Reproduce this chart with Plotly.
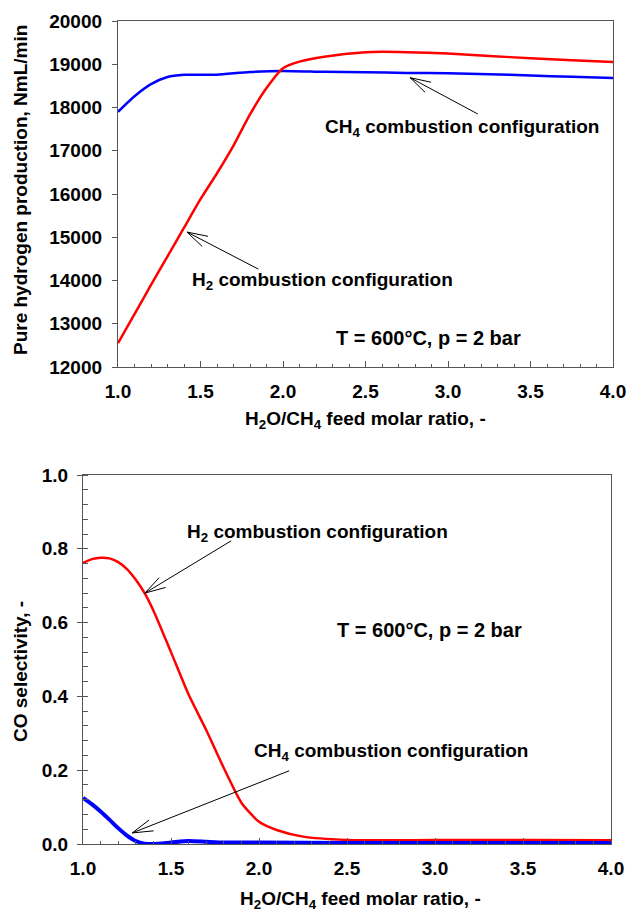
import math
import plotly.graph_objects as go

# ---------------- data ----------------
# Top panel: pure hydrogen production, NmL/min
top_x_ch4 = [1.0, 1.1, 1.2, 1.3, 1.4, 1.5, 1.6, 1.8, 2.0, 2.25, 2.5, 2.75, 3.0, 3.25, 3.5, 3.75, 4.0]
top_y_ch4 = [17900, 18260, 18540, 18705, 18755, 18755, 18760, 18820, 18845, 18825, 18815, 18800, 18790, 18770, 18740, 18710, 18680]

top_x_h2 = [1.0, 1.1, 1.2, 1.3, 1.4, 1.5, 1.6, 1.7, 1.8, 1.9, 2.0, 2.1, 2.25, 2.5, 2.6, 2.75, 3.0, 3.25, 3.5, 3.75, 4.0]
top_y_h2 = [12550, 13220, 13900, 14560, 15220, 15880, 16480, 17120, 17840, 18450, 18910, 19060, 19175, 19280, 19290, 19280, 19250, 19190, 19140, 19090, 19050]

# Bottom panel: CO selectivity
bot_x_h2 = [1.0, 1.05, 1.1, 1.15, 1.2, 1.25, 1.3, 1.35, 1.4, 1.5, 1.6, 1.7, 1.8, 1.9, 2.0, 2.1, 2.25, 2.5, 2.75, 3.0, 3.5, 4.0]
bot_y_h2 = [0.762, 0.772, 0.776, 0.774, 0.764, 0.745, 0.716, 0.680, 0.633, 0.520, 0.405, 0.309, 0.206, 0.112, 0.060, 0.038, 0.020, 0.011, 0.010, 0.011, 0.011, 0.010]

bot_x_ch4 = [1.0, 1.05, 1.1, 1.15, 1.2, 1.25, 1.3, 1.35, 1.4, 1.5, 1.6, 1.7, 1.8, 2.0, 2.5, 3.0, 3.5, 4.0]
bot_y_ch4 = [0.125, 0.108, 0.088, 0.066, 0.043, 0.023, 0.008, 0.001, 0.000, 0.004, 0.008, 0.006, 0.004, 0.004, 0.003, 0.003, 0.003, 0.003]

x_range = [1.0, 4.0]
top_range = [12000, 20000]
bot_range = [0.0, 1.0]

label_ch4 = "CH<sub>4</sub> combustion configuration"
label_h2 = "H<sub>2</sub> combustion configuration"
label_cond = "T = 600°C, p = 2 bar"
xtitle = "H<sub>2</sub>O/CH<sub>4</sub> feed molar ratio, -"
ytitle_top = "Pure hydrogen production, NmL/min"
ytitle_bot = "CO selectivity, -"

# ---------------- layout geometry ----------------
W, H = 629, 914
TOP = dict(l=118, r=613, t=21, b=367)
BOT = dict(l=83, r=611, t=475, b=844)
FONT = "Liberation Sans, Arial, Helvetica, sans-serif"
AXC = "#555555"

def xdom(p):
    return [p["l"] / W, p["r"] / W]

def ydom(p):
    return [1 - p["b"] / H, 1 - p["t"] / H]

fig = go.Figure()
line_red = dict(color="#ff0000", width=2.5, shape="spline", smoothing=0.6)
fig.add_trace(go.Scatter(x=top_x_ch4, y=top_y_ch4, xaxis="x", yaxis="y", mode="lines",
                         line=dict(color="#0000ff", width=2.5, shape="spline", smoothing=0.6)))
fig.add_trace(go.Scatter(x=top_x_h2, y=top_y_h2, xaxis="x", yaxis="y", mode="lines", line=line_red))
fig.add_trace(go.Scatter(x=bot_x_h2, y=bot_y_h2, xaxis="x2", yaxis="y2", mode="lines", line=line_red))
fig.add_trace(go.Scatter(x=bot_x_ch4, y=bot_y_ch4, xaxis="x2", yaxis="y2", mode="lines",
                         line=dict(color="#0000ff", width=4, shape="spline", smoothing=0.6)))

tickfont = dict(family=FONT, size=19, color="black", weight="bold")

def xaxis_cfg(p, anchor):
    return dict(domain=xdom(p), anchor=anchor, range=x_range, dtick=0.5, tickformat=".1f",
                showline=True, mirror=True, linecolor=AXC, linewidth=1.3,
                ticks="inside", ticklen=6, tickcolor=AXC, tickwidth=1,
                minor=dict(dtick=0.1, ticks="inside", ticklen=3, tickcolor=AXC, tickwidth=1),
                showgrid=False, zeroline=False, tickfont=tickfont, ticklabelstandoff=7,
                automargin=False)

fig.update_layout(
    width=W, height=H, margin=dict(l=0, r=0, t=0, b=0, pad=0),
    paper_bgcolor="white", plot_bgcolor="white", showlegend=False,
    xaxis=xaxis_cfg(TOP, "y"),
    xaxis2=xaxis_cfg(BOT, "y2"),
    yaxis=dict(domain=ydom(TOP), anchor="x", range=top_range, dtick=1000, tickformat="d",
               showline=True, mirror=True, linecolor=AXC, linewidth=1.3,
               ticks="outside", ticklen=5, tickcolor=AXC, showgrid=False, zeroline=False,
               tickfont=tickfont, ticklabelstandoff=6, automargin=False),
    yaxis2=dict(domain=ydom(BOT), anchor="x2", range=bot_range, dtick=0.2, tickformat=".1f",
                showline=True, mirror=True, linecolor=AXC, linewidth=1.3,
                ticks="outside", ticklen=5, tickcolor=AXC, showgrid=False, zeroline=False,
                minor=dict(dtick=0.04, ticks="inside", ticklen=5, tickcolor=AXC, tickwidth=1),
                tickfont=tickfont, ticklabelstandoff=5, automargin=False),
)

ann_font = dict(family=FONT, size=19, color="black", weight="bold")
cond_font = dict(family=FONT, size=20, color="black", weight="bold")

def text(xref, yref, x, y, s, font=ann_font):
    fig.add_annotation(xref=xref, yref=yref, x=x, y=y, text=s, showarrow=False,
                       font=font, xanchor="center", yanchor="middle")

def px_scale(p, yr):
    sx = (p["r"] - p["l"]) / (x_range[1] - x_range[0])
    sy = (p["b"] - p["t"]) / (yr[1] - yr[0])
    return sx, sy

def arrow(xref, yref, p, yr, head, tail, barb=23, ang=16):
    fig.add_annotation(xref=xref, yref=yref, x=head[0], y=head[1], ax=tail[0], ay=tail[1],
                       axref=xref, ayref=yref, text="", showarrow=True, arrowhead=0,
                       arrowwidth=1, arrowcolor="black", standoff=0, startstandoff=0)
    sx, sy = px_scale(p, yr)
    dx = (tail[0] - head[0]) * sx
    dy = -(tail[1] - head[1]) * sy
    a = math.atan2(dy, dx)
    for s in (-1, 1):
        b = a + s * math.radians(ang)
        fig.add_annotation(xref=xref, yref=yref, x=head[0], y=head[1],
                           ax=barb * math.cos(b), ay=barb * math.sin(b),
                           text="", showarrow=True, arrowhead=0, arrowwidth=1,
                           arrowcolor="black", standoff=0, startstandoff=0)

# top panel annotations
arrow("x", "y", TOP, top_range, (2.77, 18690), (3.19, 17830))
arrow("x", "y", TOP, top_range, (1.418, 15120), (1.86, 14245))
text("x", "y", 3.085, 17526, label_ch4)
text("x", "y", 2.24, 13988, label_h2)
text("x", "y", 2.88, 12670, label_cond, cond_font)

# bottom panel annotations
arrow("x2", "y2", BOT, bot_range, (1.352, 0.680), (1.85, 0.824))
arrow("x2", "y2", BOT, bot_range, (1.28, 0.030), (2.18, 0.200))
text("x2", "y2", 2.335, 0.843, label_h2)
text("x2", "y2", 2.97, 0.58, label_cond, cond_font)
text("x2", "y2", 2.75, 0.249, label_ch4)

# axis titles
title_font = dict(family=FONT, size=19, color="black", weight="bold")
fig.add_annotation(xref="paper", yref="paper", x=365 / W, y=1 - 420 / H, text=xtitle,
                   showarrow=False, font=title_font, xanchor="center", yanchor="middle")
fig.add_annotation(xref="paper", yref="paper", x=360 / W, y=1 - 900 / H, text=xtitle,
                   showarrow=False, font=title_font, xanchor="center", yanchor="middle")
fig.add_annotation(xref="paper", yref="paper", x=21 / W, y=1 - 190 / H, text=ytitle_top,
                   textangle=-90, showarrow=False, font=title_font, xanchor="center", yanchor="middle")
fig.add_annotation(xref="paper", yref="paper", x=20 / W, y=1 - 672 / H, text=ytitle_bot,
                   textangle=-90, showarrow=False, font=title_font, xanchor="center", yanchor="middle")

fig.write_html("out.html")
